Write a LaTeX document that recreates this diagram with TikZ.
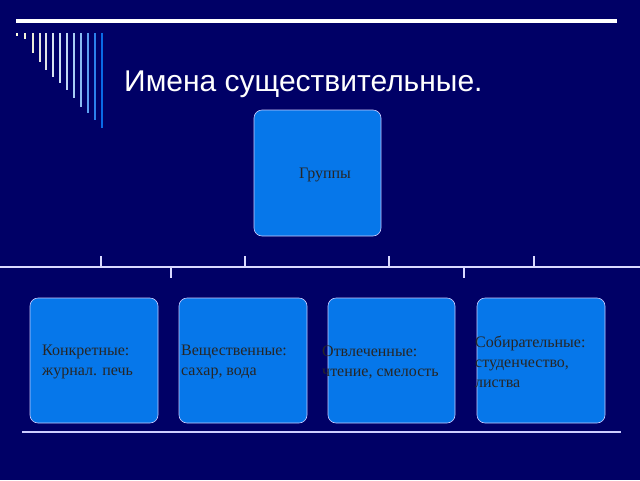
\documentclass[tikz,border=0pt]{standalone}
\usepackage{fontspec}
\setmainfont{Liberation Serif}
\newfontfamily\titlefont{Liberation Sans}
\begin{document}
\begin{tikzpicture}[x=1pt,y=-1pt,
  box/.style={draw=blue!20!white,line width=0.6pt,fill=boxblue,rounded corners=8pt},
  txt/.style={anchor=west,align=left,font=\fontsize{16}{20}\selectfont,text=black!85,inner sep=0pt},
  rule/.style={draw=white!85!blue,line width=2pt}]
\definecolor{bg}{HTML}{000066}
\definecolor{boxblue}{HTML}{0677EA}
\useasboundingbox (0,0) rectangle (640,480);
\fill[bg] (0,0) rectangle (640,480);
\draw[white,line width=4.5pt] (16,21) -- (617,21);
\foreach \x/\b/\c in {17/36/FFFFE0,25/39/F5F3D8,33/53/ECECD8,40/62/E6E6E0,46/70/E0E4E8,53/77/D8E4F0,60/83/CCE0F4,67/90/C0D8F4,74/98/A8CCF4,81/107/8CBCF4,88/113/5CA0F0,95/120/2C80EC,102/128/0A6AE6}{
  \definecolor{sc}{HTML}{\c}
  \draw[sc,line width=2pt] (\x,33) -- (\x,\b);
}
\node[anchor=base west,inner sep=0pt,text=white,font=\titlefont\fontsize{30}{34}\selectfont] (title) at (124,91) {Имена существительные.};
\draw[box] (254,110) rectangle (381,236);
\node[font=\fontsize{16}{20}\selectfont,text=black!85] (grp) at (325,175) {Группы};
\draw[rule] (0,267) -- (640,267);
\foreach \x in {101,245,389,534}{\draw[rule] (\x,256) -- (\x,267);}
\foreach \x in {171,464}{\draw[rule] (\x,267) -- (\x,278);}
\draw[box] (30,298) rectangle (158,423);
\draw[box] (179,298) rectangle (307,423);
\draw[box] (328,298) rectangle (455,423);
\draw[box] (477,298) rectangle (605,423);
\draw[draw=white!80!blue,line width=1.5pt] (22,432) -- (621,432);
\node[txt] (k) at (42,362) {Конкретные:\\журнал. печь};
\node[txt] (v) at (181,362) {Вещественные:\\сахар, вода};
\node[txt] (o) at (322,362) {Отвлеченные:\\чтение, смелость};
\node[txt] (s) at (475,362) {Собирательные:\\студенчество,\\ листва};
\end{tikzpicture}
\end{document}
